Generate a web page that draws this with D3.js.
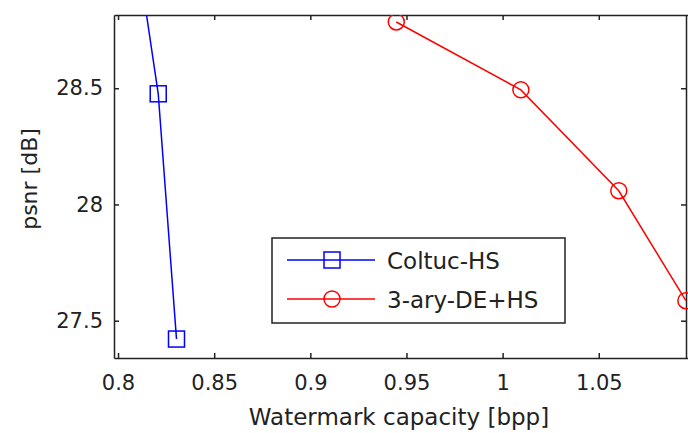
<!DOCTYPE html>
<html>
<head>
<meta charset="utf-8">
<script src="https://cdn.jsdelivr.net/npm/d3@7"></script>
<style>
  body { margin: 0; background: #fff; }
  svg { display: block; }
  text { font-family: "DejaVu Sans", sans-serif; fill: #222; }
</style>
</head>
<body>
<svg id="chart" width="688" height="433"></svg>
<script>
// series values
const coltucX = [0.8304, 0.8209, 0.8115];
const coltucY = [27.421, 28.476, 29.0];
const aryX = [0.9447, 1.0095, 1.0604, 1.0953];
const aryY = [28.785, 28.493, 28.059, 27.586];

const xTicks = [0.8, 0.85, 0.9, 0.95, 1, 1.05];
const yTicks = [27.5, 28, 28.5];
const seriesNames = ["Coltuc-HS", "3-ary-DE+HS"];

const svg = d3.select("#chart");
const margin = { top: 15, right: 0, bottom: 75, left: 114 };
const width = 688, height = 433;
const innerW = width - margin.left - margin.right;
const innerH = height - margin.top - margin.bottom;

const x = d3.scaleLinear().domain([0.7979, 1.0964]).range([0, innerW]);
const y = d3.scaleLinear().domain([27.3395, 28.815]).range([innerH, 0]);

const g = svg.append("g").attr("transform", `translate(${margin.left},${margin.top})`);

g.append("clipPath").attr("id", "clip")
  .append("rect").attr("x", 0).attr("y", 0).attr("width", innerW).attr("height", innerH);

const fmt = d => String(d);

// axes (box style, ticks inside)
const axB = g.append("g").attr("transform", `translate(0,${innerH})`)
  .call(d3.axisBottom(x).tickValues(xTicks).tickFormat(fmt).tickSizeInner(-5).tickSizeOuter(0));
axB.selectAll("text").attr("y", 32).attr("dy", 0);
const axT = g.append("g")
  .call(d3.axisTop(x).tickValues(xTicks).tickFormat("").tickSizeInner(-5).tickSizeOuter(0));
const axL = g.append("g")
  .call(d3.axisLeft(y).tickValues(yTicks).tickFormat(fmt).tickSizeInner(-5).tickSizeOuter(0).tickPadding(11));
const axR = g.append("g").attr("transform", `translate(${innerW - 2},0)`)
  .call(d3.axisRight(y).tickValues(yTicks).tickFormat("").tickSizeInner(-5).tickSizeOuter(0));

[axB, axT, axL, axR].forEach(a => {
  a.selectAll(".domain").attr("stroke", "#222").attr("stroke-width", 1.5);
  a.selectAll(".tick line").attr("stroke", "#222").attr("stroke-width", 1.5);
  a.selectAll("text").style("font-size", "21px").style("font-family", "DejaVu Sans, sans-serif").attr("fill", "#222");
});

const plot = g.append("g").attr("clip-path", "url(#clip)");
const line = d3.line().x(d => x(d[0])).y(d => y(d[1]));

const coltuc = coltucX.map((v, i) => [v, coltucY[i]]);
const ary = aryX.map((v, i) => [v, aryY[i]]);

plot.append("path").datum(coltuc).attr("d", line)
  .attr("fill", "none").attr("stroke", "#0000ff").attr("stroke-width", 1.5);
plot.selectAll(".sq").data(coltuc).enter().append("rect")
  .attr("x", d => x(d[0]) - 8).attr("y", d => y(d[1]) - 8)
  .attr("width", 16).attr("height", 16)
  .attr("fill", "none").attr("stroke", "#0000ff").attr("stroke-width", 1.5);

plot.append("path").datum(ary).attr("d", line)
  .attr("fill", "none").attr("stroke", "#ff0000").attr("stroke-width", 1.5);
plot.selectAll(".ci").data(ary).enter().append("circle")
  .attr("cx", d => x(d[0])).attr("cy", d => y(d[1])).attr("r", 8)
  .attr("fill", "none").attr("stroke", "#ff0000").attr("stroke-width", 1.5);

// axis labels
svg.append("text").attr("x", 399).attr("y", 425).attr("text-anchor", "middle")
  .style("font-size", "23px").text("Watermark capacity [bpp]");
svg.append("text").attr("transform", "translate(37,179) rotate(-90)").attr("text-anchor", "middle")
  .style("font-size", "22px").text("psnr [dB]");

// legend
const lg = svg.append("g").attr("transform", "translate(272,238)");
lg.append("rect").attr("width", 293).attr("height", 85)
  .attr("fill", "#fff").attr("stroke", "#222").attr("stroke-width", 1.5);
const rows = [
  { name: seriesNames[0], color: "#0000ff", shape: "sq", yy: 22 },
  { name: seriesNames[1], color: "#ff0000", shape: "ci", yy: 61 }
];
rows.forEach(r => {
  lg.append("line").attr("x1", 15).attr("x2", 103).attr("y1", r.yy).attr("y2", r.yy)
    .attr("stroke", r.color).attr("stroke-width", 1.5);
  if (r.shape === "sq") {
    lg.append("rect").attr("x", 60 - 8).attr("y", r.yy - 8).attr("width", 16).attr("height", 16)
      .attr("fill", "none").attr("stroke", r.color).attr("stroke-width", 1.5);
  } else {
    lg.append("circle").attr("cx", 60).attr("cy", r.yy).attr("r", 8)
      .attr("fill", "none").attr("stroke", r.color).attr("stroke-width", 1.5);
  }
  lg.append("text").attr("x", 115).attr("y", r.yy + 9).style("font-size", "23px").text(r.name);
});
</script>
</body>
</html>
